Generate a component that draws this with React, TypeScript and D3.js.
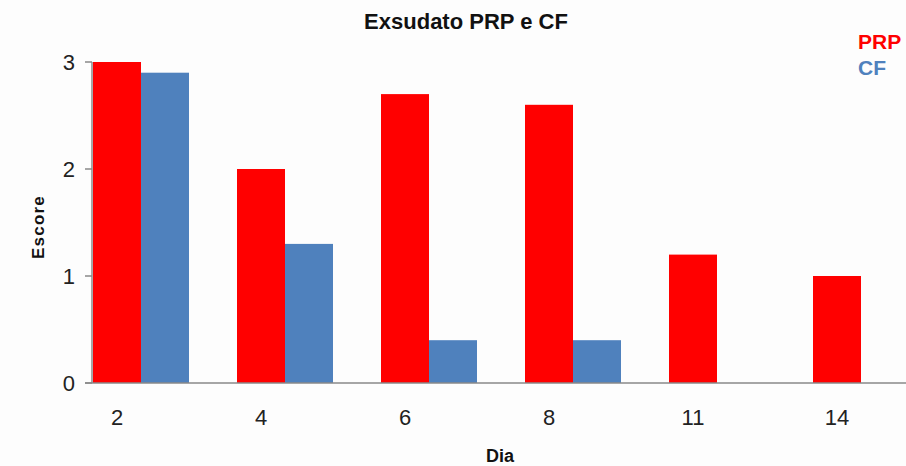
import React from "react";
import * as d3 from "d3";

const categories = ["2", "4", "6", "8", "11", "14"];
const series = ["PRP", "CF"];
const prpValues = [3, 2, 2.7, 2.6, 1.2, 1];
const cfValues = [2.9, 1.3, 0.4, 0.4, 0, 0];
const yTicks = [0, 1, 2, 3];
const colors = ["#FF0000", "#4F81BD"];

const W = 906;
const H = 466;
const axisX = 92;
const y0 = 383;
const y3 = 62;

export default function App() {
  const x = d3.scaleBand<string>().domain(categories).range([93, 909]).paddingInner(1 / 3).paddingOuter(0);
  const xs = d3.scaleBand<string>().domain(series).range([0, x.bandwidth()]);
  const y = d3.scaleLinear().domain([0, 3]).range([y0, y3]);
  const data = [prpValues, cfValues];
  const font = "'Liberation Sans', Arial, sans-serif";
  return (
    <svg width={W} height={H} style={{ position: "absolute", left: 0, top: 0, background: "#fdfdfd" }} fontFamily={font}>
      <rect x={0} y={0} width={W} height={H} fill="#fdfdfd" />
      {categories.map((c, i) =>
        series.map((s, j) => {
          const v = data[j][i];
          if (v <= 0) return null;
          return (
            <rect key={c + s} x={(x(c) as number) + (xs(s) as number)} y={y(v)} width={xs.bandwidth()} height={y(0) - y(v)} fill={colors[j]} />
          );
        })
      )}
      <line x1={axisX} x2={axisX} y1={y(3)} y2={y(0)} stroke="#888" strokeWidth={1.5} />
      <line x1={85} x2={W} y1={y(0)} y2={y(0)} stroke="#888" strokeWidth={1.5} />
      {yTicks.map((t) => (
        <g key={t}>
          <line x1={85} x2={axisX} y1={y(t)} y2={y(t)} stroke="#888" strokeWidth={1.5} />
          <text x={75} y={y(t) + 8} textAnchor="end" fontSize={22} fill="#222">{t}</text>
        </g>
      ))}
      {categories.map((c) => (
        <text key={c} x={(x(c) as number) + (xs("PRP") as number) + xs.bandwidth() / 2} y={425} textAnchor="middle" fontSize={22} fill="#222">{c}</text>
      ))}
      <text x={500} y={462} textAnchor="middle" fontSize={18} fontWeight="bold" fill="#111">Dia</text>
      <text transform={`translate(44,227) rotate(-90)`} textAnchor="middle" fontSize={17} fontWeight="bold" letterSpacing={1.2} fill="#111">Escore</text>
      <text x={466} y={29} textAnchor="middle" fontSize={22} fontWeight="bold" fill="#111">Exsudato PRP e CF</text>
      {series.map((s, j) => (
        <text key={s} x={858} y={49 + j * 26} fontSize={21} fontWeight="bold" fill={colors[j]}>{s}</text>
      ))}
    </svg>
  );
}
